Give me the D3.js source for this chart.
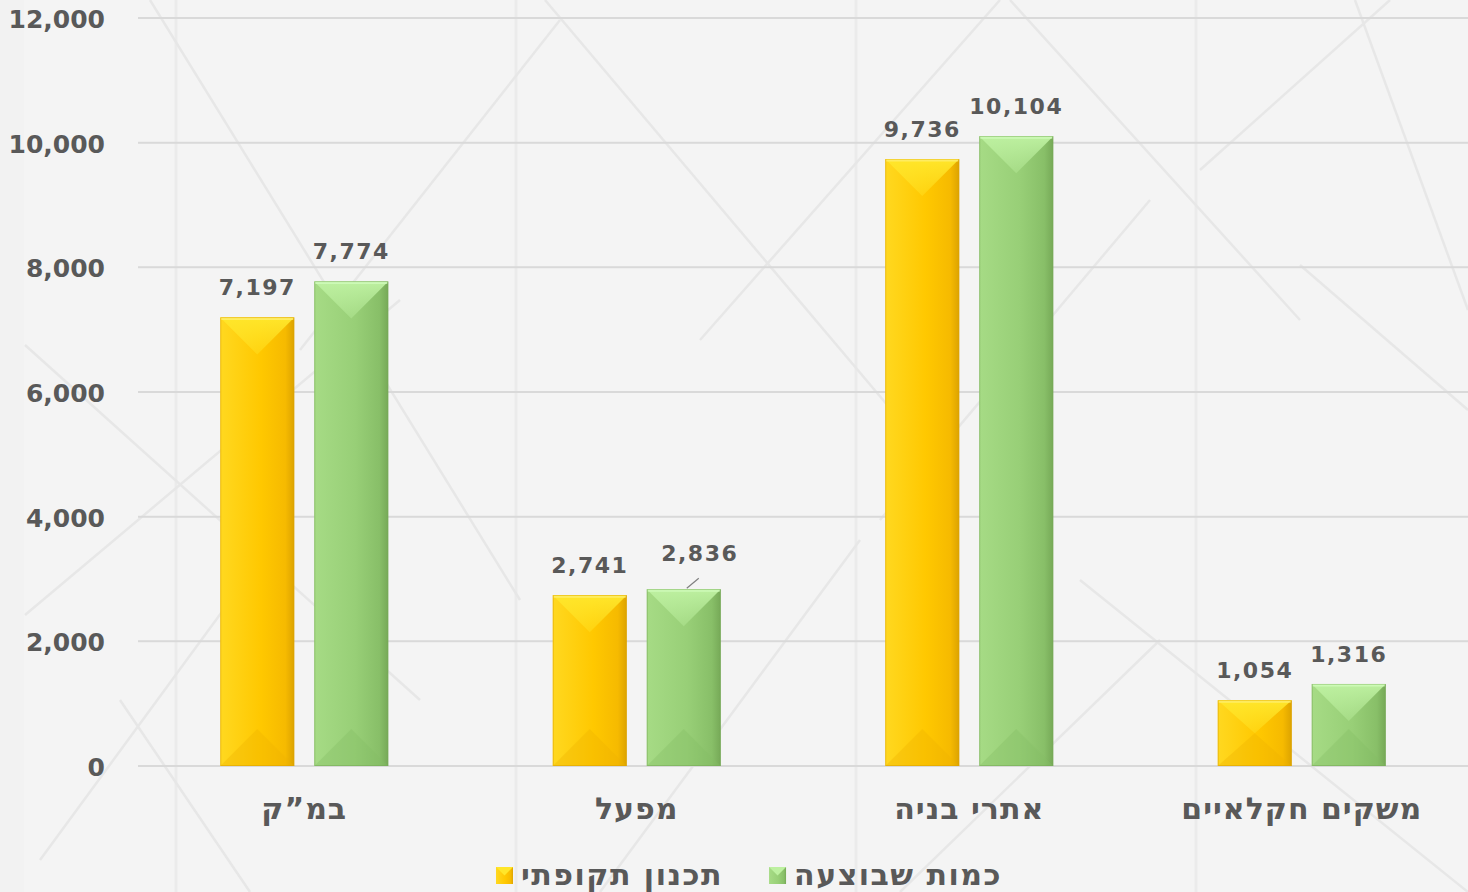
<!DOCTYPE html>
<html lang="he">
<head>
<meta charset="utf-8">
<script src="https://cdn.jsdelivr.net/npm/d3@7"></script>
<style>
  html, body { margin: 0; padding: 0; background: #f2f2f2; }
  svg { display: block; }
  .tick-label, .data-label, .cat-label, .legend-label {
    font-family: "DejaVu Sans", sans-serif;
    font-weight: bold;
    fill: #595959;
  }
</style>
</head>
<body>
<div id="chart"></div>
<script>
// chart data
var categories = ['במ”ק', 'מפעל', 'אתרי בניה', 'משקים חקלאיים'];
var seriesNames = ['תכנון תקופתי', 'כמות שבוצעה'];
var planned = [7197, 2741, 9736, 1054];
var done = [7774, 2836, 10104, 1316];
var yTicks = [0, 2000, 4000, 6000, 8000, 10000, 12000];

var width = 1468, height = 892;
var plot = {left: 138, right: 1468, top: 18, bottom: 766};

// bevel colours per series
var palette = [
    {left: '#ffd820', mid: '#ffc800', right: '#f6ba00', edge: '#dca300', top: '#ffe62a', bottom: '#eeb300', hi: '#fff27a'},
    {left: '#a6db85', mid: '#98cf77', right: '#88bf68', edge: '#76a957', top: '#bdf0a0', bottom: '#85bc64', hi: '#d4ffc0'}
];

var svg = d3.select('#chart').append('svg')
    .attr('width', width)
    .attr('height', height);

var defs = svg.append('defs');
palette.forEach(function(p, i) {
    var g = defs.append('linearGradient')
        .attr('id', 'face' + i)
        .attr('x1', 0).attr('x2', 1).attr('y1', 0).attr('y2', 0);
    g.append('stop').attr('offset', '0%').attr('stop-color', p.left);
    g.append('stop').attr('offset', '55%').attr('stop-color', p.mid);
    g.append('stop').attr('offset', '88%').attr('stop-color', p.right);
    g.append('stop').attr('offset', '100%').attr('stop-color', p.edge);
    var t = defs.append('linearGradient')
        .attr('id', 'top' + i)
        .attr('x1', 0).attr('x2', 0).attr('y1', 0).attr('y2', 1);
    t.append('stop').attr('offset', '0%').attr('stop-color', p.top).attr('stop-opacity', 1);
    t.append('stop').attr('offset', '100%').attr('stop-color', p.top).attr('stop-opacity', 0.35);
});

// background
svg.append('rect').attr('width', width).attr('height', height).attr('fill', '#f2f2f2');
svg.append('rect').attr('x', 24).attr('width', width - 24).attr('height', height).attr('fill', '#f4f4f4');

// faint decorative pattern behind the chart
var decor = svg.append('g').attr('stroke', '#e7e7e7').attr('fill', 'none');
[176, 516, 856, 1196].forEach(function(x) {
    decor.append('line').attr('x1', x).attr('x2', x).attr('y1', 0).attr('y2', height)
        .attr('stroke-width', 3).attr('stroke', '#ebebeb');
});
var diag = [
    [150, 0, 520, 600], [25, 345, 420, 700], [25, 615, 400, 300], [40, 860, 260, 560],
    [545, 0, 900, 420], [560, 20, 300, 350], [700, 340, 1000, 0], [600, 892, 860, 540],
    [1010, 0, 1300, 320], [1150, 200, 880, 520], [1355, 0, 1468, 310], [1390, 0, 1200, 170],
    [1300, 265, 1468, 410], [1080, 580, 1468, 892], [900, 892, 1160, 640], [250, 892, 120, 700]
];
diag.forEach(function(d) {
    decor.append('line').attr('x1', d[0]).attr('y1', d[1]).attr('x2', d[2]).attr('y2', d[3])
        .attr('stroke-width', 2.5);
});

// scales
var y = d3.scaleLinear().domain([0, 12000]).range([plot.bottom, plot.top]);
var x0 = d3.scaleBand().domain(categories).range([plot.left, plot.right])
    .paddingInner(0.4947).paddingOuter(0.2474);
var x1 = d3.scaleBand().domain(seriesNames).range([0, x0.bandwidth()]).paddingInner(0.2128);

// grid
svg.append('g').selectAll('line')
    .data(yTicks)
  .enter().append('line')
    .attr('x1', plot.left).attr('x2', plot.right)
    .attr('y1', function(d) { return y(d); })
    .attr('y2', function(d) { return y(d); })
    .attr('stroke', '#d9d9d9')
    .attr('stroke-width', 2);

// y axis labels
svg.append('g').selectAll('text')
    .data(yTicks)
  .enter().append('text')
    .attr('class', 'tick-label')
    .attr('x', 105)
    .attr('y', function(d) { return y(d) + 10; })
    .attr('text-anchor', 'end')
    .style('font-size', '25px')
    .text(function(d) { return d3.format(',')(d); });

// bars
var rows = categories.map(function(c, i) {
    return {cat: c, vals: [planned[i], done[i]]};
});

var groups = svg.append('g').selectAll('.cat')
    .data(rows)
  .enter().append('g')
    .attr('class', 'cat')
    .attr('transform', function(d) { return 'translate(' + x0(d.cat) + ',0)'; });

var bars = groups.selectAll('.bar')
    .data(function(d, ci) {
        return d.vals.map(function(v, i) { return {series: seriesNames[i], idx: i, cat: ci, value: v}; });
    })
  .enter().append('g')
    .attr('class', 'bar');

bars.each(function(d) {
    var g = d3.select(this);
    var p = palette[d.idx];
    var bx = x1(d.series), bw = x1.bandwidth();
    var top = y(d.value), bot = y(0), h = bot - top;
    var depth = Math.min(bw / 2, h / 2);
    var cx = bx + bw / 2;

    g.append('rect')
        .attr('x', bx).attr('y', top).attr('width', bw).attr('height', h)
        .attr('fill', 'url(#face' + d.idx + ')');
    // top facet
    g.append('path')
        .attr('d', 'M' + bx + ',' + top + 'L' + (bx + bw) + ',' + top + 'L' + cx + ',' + (top + depth) + 'Z')
        .attr('fill', 'url(#top' + d.idx + ')');
    // bottom facet, subtle
    g.append('path')
        .attr('d', 'M' + bx + ',' + bot + 'L' + (bx + bw) + ',' + bot + 'L' + cx + ',' + (bot - depth) + 'Z')
        .attr('fill', p.bottom).attr('opacity', 0.35);
    // edges
    g.append('rect')
        .attr('x', bx + 0.5).attr('y', top + 0.5).attr('width', bw - 1).attr('height', h - 1)
        .attr('fill', 'none').attr('stroke', p.edge).attr('stroke-width', 1).attr('opacity', 0.55);
    g.append('line')
        .attr('x1', bx + 1).attr('x2', bx + bw - 1).attr('y1', top + 1.5).attr('y2', top + 1.5)
        .attr('stroke', p.hi).attr('stroke-width', 2).attr('opacity', 0.7);

    // the 2,836 label was dragged aside in the original, with a leader line
    var dx = 0, dy = 0;
    if (d.cat === 1 && d.idx === 1) { dx = 16; dy = -6; }
    if (dx) {
        g.append('line')
            .attr('x1', cx + 3).attr('y1', top - 1)
            .attr('x2', cx + 15).attr('y2', top - 11)
            .attr('stroke', '#7f7f7f').attr('stroke-width', 1.2);
    }
    g.append('text')
        .attr('class', 'data-label')
        .attr('x', cx + dx)
        .attr('y', top - 22 + dy)
        .attr('text-anchor', 'middle')
        .style('font-size', '22px')
        .style('letter-spacing', '1.5px')
        .text(d3.format(',')(d.value));
});

// category labels
svg.append('g').selectAll('text')
    .data(categories)
  .enter().append('text')
    .attr('class', 'cat-label')
    .attr('x', function(d) { return x0(d) + x0.bandwidth() / 2; })
    .attr('y', 819)
    .attr('text-anchor', 'middle')
    .attr('direction', 'rtl')
    .style('font-size', '30px')
    .style('letter-spacing', '1px')
    .text(function(d) { return d; });

// legend (right to left: first series is rightmost)
var legend = svg.append('g');
var legendItems = [
    {name: seriesNames[1], idx: 1},
    {name: seriesNames[0], idx: 0}
];
var legendFont = '30px', legendSpacing = '1.5px';
var marker = 17, gapMarker = 8, gapItem = 46, legendY = 885;
var widths = legendItems.map(function(it) {
    var t = legend.append('text').attr('class', 'legend-label')
        .style('font-size', legendFont).style('letter-spacing', legendSpacing)
        .attr('direction', 'rtl').text(it.name);
    var w = t.node().getComputedTextLength();
    t.remove();
    return w;
});
var total = d3.sum(widths) + legendItems.length * (marker + gapMarker) + gapItem;
var cursor = 749 + total / 2;
legendItems.forEach(function(it, i) {
    var p = palette[it.idx];
    var textLeft = cursor - widths[i];
    legend.append('text')
        .attr('class', 'legend-label')
        .attr('x', cursor)
        .attr('y', legendY)
        .attr('text-anchor', 'start')
        .attr('direction', 'rtl')
        .style('font-size', legendFont)
        .style('letter-spacing', legendSpacing)
        .text(it.name);
    var mx = textLeft - gapMarker - marker;
    var my = legendY - 18;
    legend.append('rect')
        .attr('x', mx).attr('y', my).attr('width', marker).attr('height', marker)
        .attr('fill', 'url(#face' + it.idx + ')');
    legend.append('path')
        .attr('d', 'M' + mx + ',' + my + 'L' + (mx + marker) + ',' + my + 'L' + (mx + marker / 2) + ',' + (my + marker / 2) + 'Z')
        .attr('fill', p.top);
    cursor = mx - gapItem;
});
</script>
</body>
</html>
